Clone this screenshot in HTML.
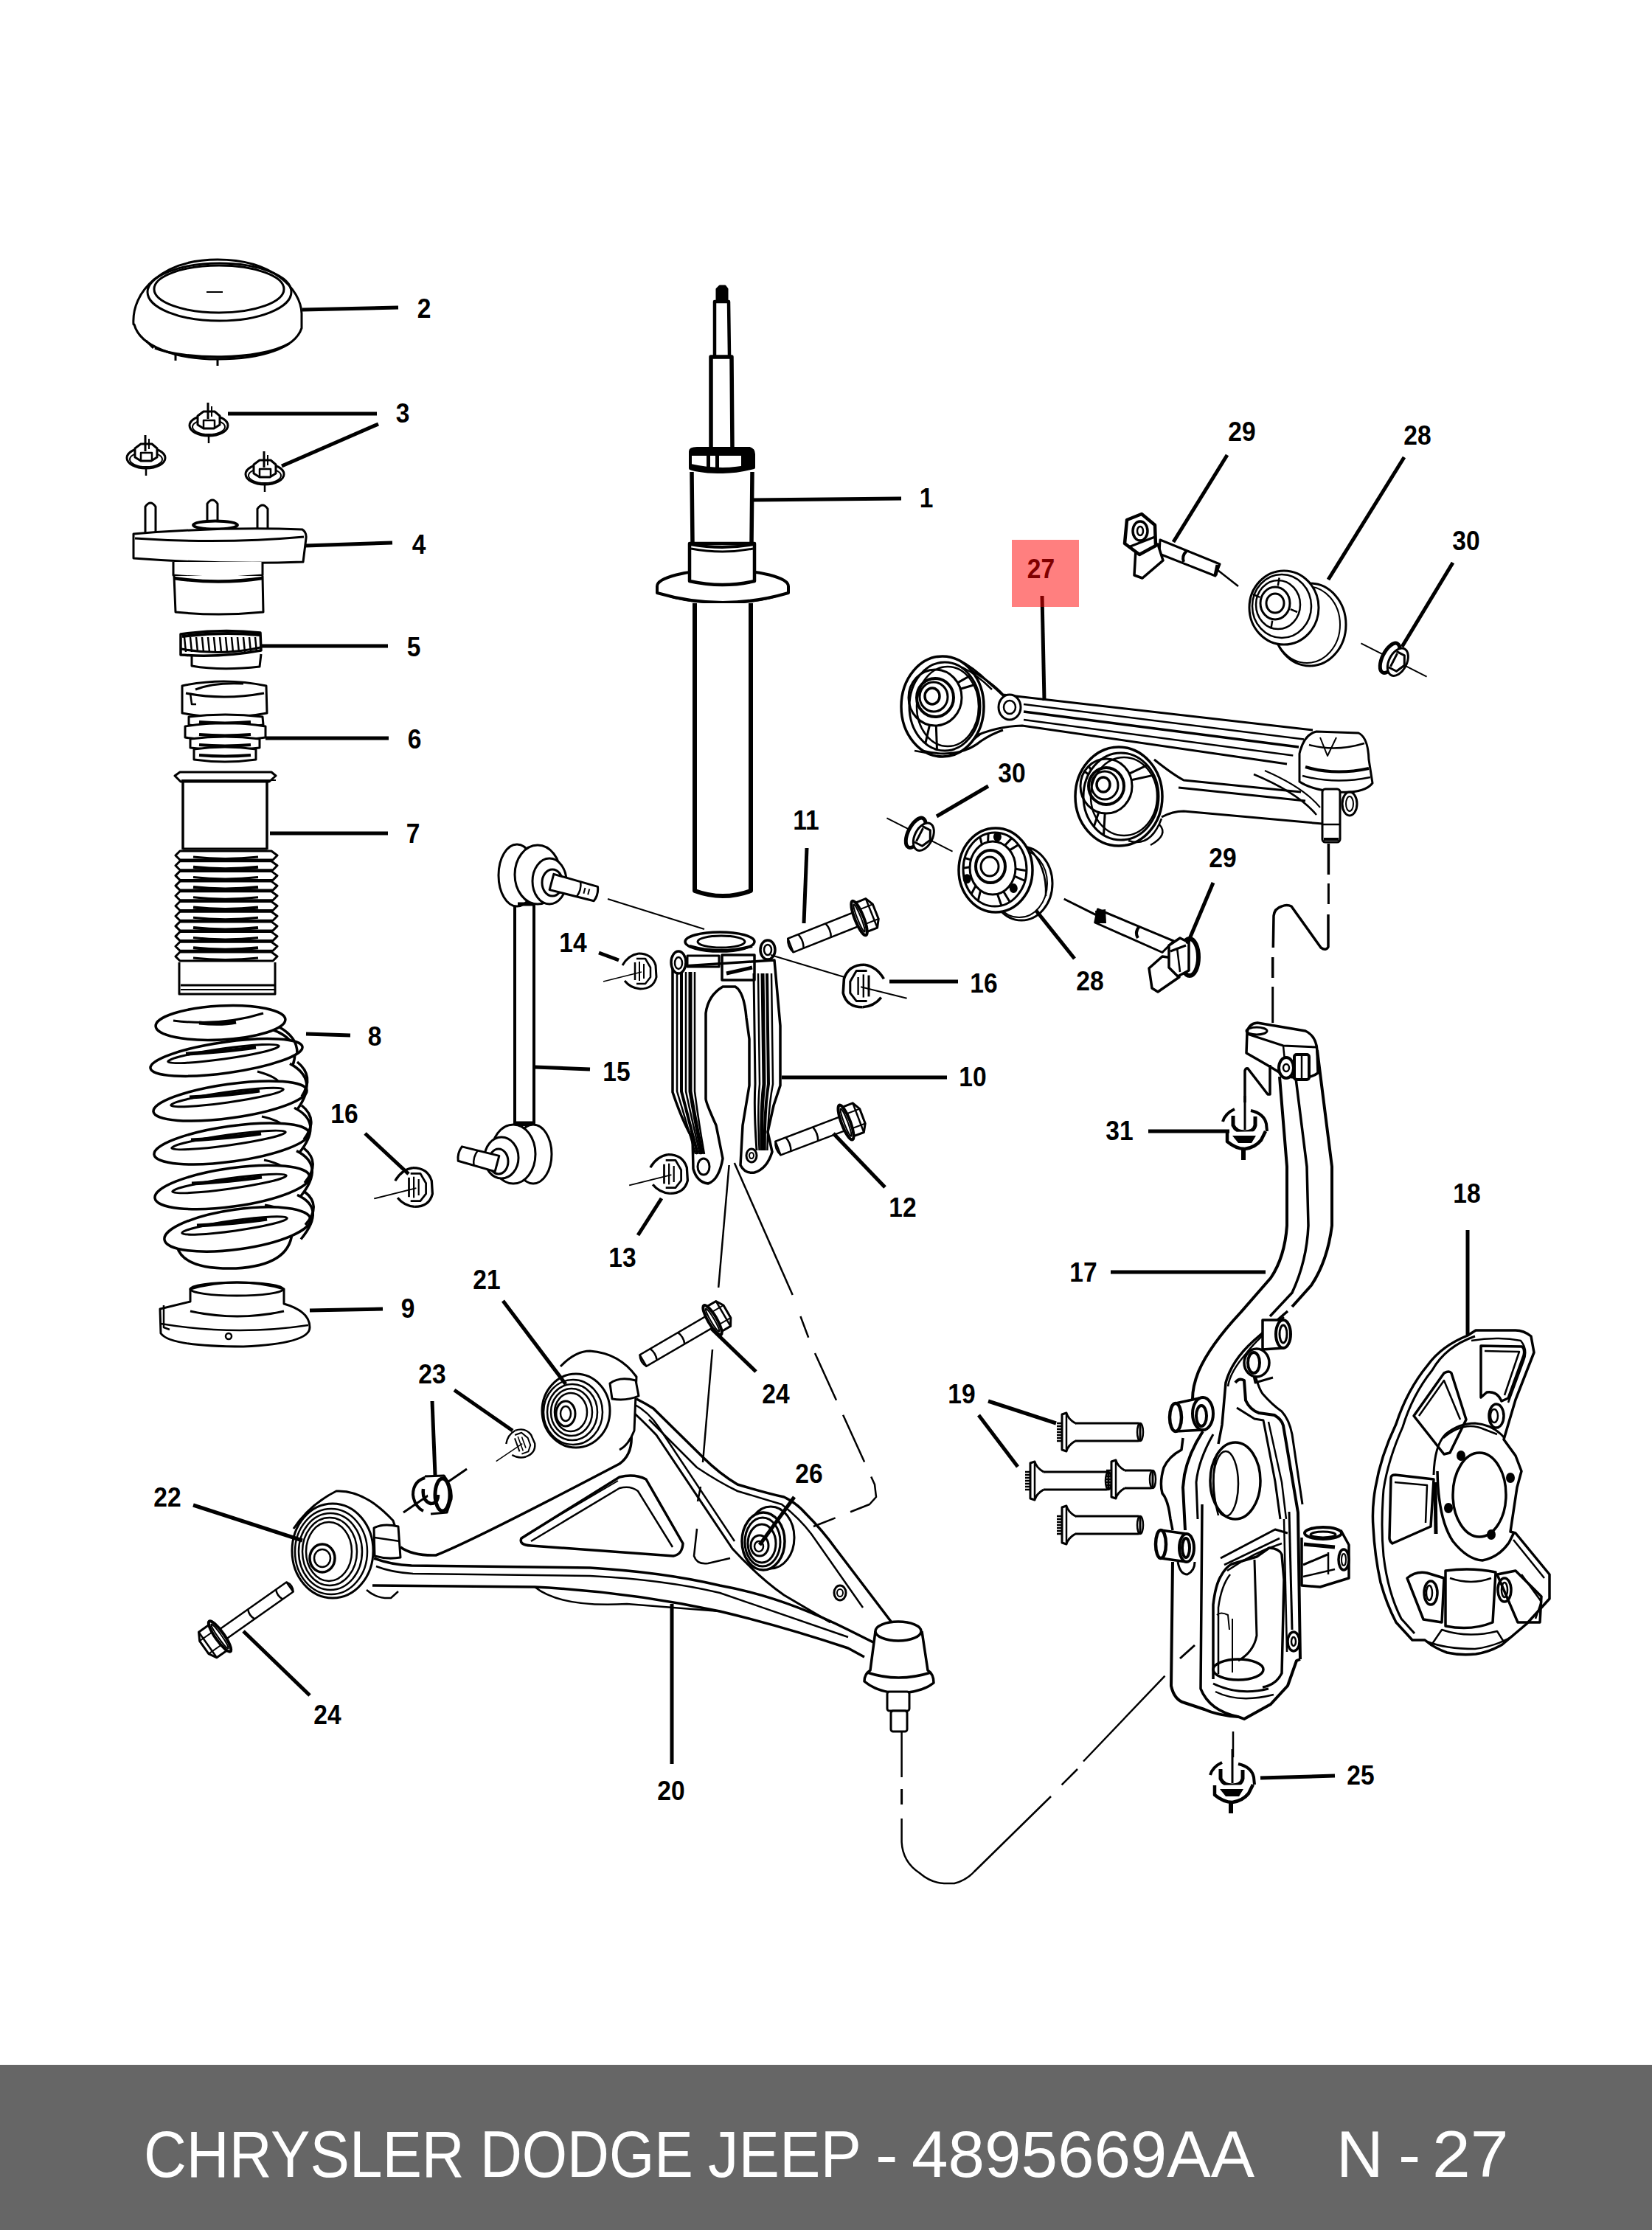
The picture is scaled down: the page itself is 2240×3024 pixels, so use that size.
<!DOCTYPE html>
<html><head><meta charset="utf-8"><style>
html,body{margin:0;padding:0;background:#fff;}
body{width:2240px;height:3024px;position:relative;overflow:hidden;font-family:"Liberation Sans",sans-serif;}
svg{position:absolute;left:0;top:0;}
.lbl text{font-family:"Liberation Sans",sans-serif;font-weight:bold;font-size:36.5px;text-anchor:middle;}
#footer{position:absolute;left:0;top:2800px;width:2240px;height:224px;background:#666;}
.ft{position:absolute;top:2877.1px;color:#fff;font-size:89px;white-space:nowrap;line-height:1;transform-origin:0 0;}
</style></head><body>
<svg width="2240" height="2800" viewBox="0 0 2240 2800">
<g stroke="#000" fill="none" stroke-linejoin="round" stroke-linecap="butt">
<path d="M181,440 C178,395 220,352 295,352 C370,352 408,392 409,425 L409,445 C400,472 355,487 295,487 C238,487 190,470 182,440 Z" stroke-width="3" fill="#fff" />
<ellipse cx="297.5" cy="396" rx="97.5" ry="39" stroke-width="3" fill="none" />
<ellipse cx="297" cy="392" rx="88" ry="32" stroke-width="3" fill="none" />
<line x1="280" y1="396" x2="302" y2="396" stroke-width="2" />
<line x1="238" y1="478" x2="238" y2="489" stroke-width="3" />
<line x1="295" y1="487" x2="295" y2="496" stroke-width="3" />
<path d="M210,472 C250,488 350,490 392,466" stroke-width="3.5" fill="none" />
<path d="M198,462 L208,472" stroke-width="3" fill="none" />
<g transform="translate(283 573) rotate(0) scale(1 1)">
<ellipse cx="0" cy="4" rx="26" ry="14" stroke-width="3" fill="#fff" />
<ellipse cx="0" cy="6" rx="22" ry="10" stroke-width="2" fill="none" />
<path d="M-15,3 L-15,-9 L-7,-15 L8,-15 L15,-9 L15,3 L7,8 L-7,8 Z" stroke-width="3" fill="#fff" />
<path d="M-7,8 L-7,-3 L8,-3 L8,8" stroke-width="2.5" fill="none" />
<line x1="-1" y1="-27" x2="-1" y2="-5" stroke-width="3" />
<line x1="4" y1="-22" x2="4" y2="-8" stroke-width="2" />
<line x1="0" y1="18" x2="0" y2="28" stroke-width="2.5" />
</g>
<g transform="translate(198 617) rotate(0) scale(1 1)">
<ellipse cx="0" cy="4" rx="26" ry="14" stroke-width="3" fill="#fff" />
<ellipse cx="0" cy="6" rx="22" ry="10" stroke-width="2" fill="none" />
<path d="M-15,3 L-15,-9 L-7,-15 L8,-15 L15,-9 L15,3 L7,8 L-7,8 Z" stroke-width="3" fill="#fff" />
<path d="M-7,8 L-7,-3 L8,-3 L8,8" stroke-width="2.5" fill="none" />
<line x1="-1" y1="-27" x2="-1" y2="-5" stroke-width="3" />
<line x1="4" y1="-22" x2="4" y2="-8" stroke-width="2" />
<line x1="0" y1="18" x2="0" y2="28" stroke-width="2.5" />
</g>
<g transform="translate(359 639) rotate(0) scale(1 1)">
<ellipse cx="0" cy="4" rx="26" ry="14" stroke-width="3" fill="#fff" />
<ellipse cx="0" cy="6" rx="22" ry="10" stroke-width="2" fill="none" />
<path d="M-15,3 L-15,-9 L-7,-15 L8,-15 L15,-9 L15,3 L7,8 L-7,8 Z" stroke-width="3" fill="#fff" />
<path d="M-7,8 L-7,-3 L8,-3 L8,8" stroke-width="2.5" fill="none" />
<line x1="-1" y1="-27" x2="-1" y2="-5" stroke-width="3" />
<line x1="4" y1="-22" x2="4" y2="-8" stroke-width="2" />
<line x1="0" y1="18" x2="0" y2="28" stroke-width="2.5" />
</g>
<path d="M197,722 L197,687 Q204,677 211,687 L211,722" stroke-width="3" fill="#fff" />
<path d="M281,712 L281,683 Q288,673 295,683 L295,712" stroke-width="3" fill="#fff" />
<path d="M349,726 L349,690 Q356,680 363,690 L363,726" stroke-width="3" fill="#fff" />
<rect x="349" y="716" width="14" height="10" rx="0" stroke-width="0" fill="#000"/>
<ellipse cx="292" cy="712" rx="30" ry="5.5" stroke-width="4" fill="#fff" />
<path d="M181,724 Q300,714 410,718 Q416,722 415,730 L411,762 Q300,766 181,757 Z" stroke-width="3" fill="#fff" />
<path d="M183,730 Q300,738 412,728" stroke-width="3" fill="none" />
<path d="M235,762 L235,780 Q296,786 356,780 L356,762" stroke-width="3" fill="#fff" />
<path d="M236,781 L238,830 Q296,836 357,830 L356,781" stroke-width="3" fill="#fff" />
<path d="M236,784 Q296,793 356,784" stroke-width="4.5" fill="none" />
<path d="M260,887 L260,903 Q300,910 352,904 L354,887" stroke-width="3" fill="#fff" />
<path d="M245,860 Q300,852 353,858 L354,882 Q300,892 245,888 Z" stroke-width="3.5" fill="#fff" />
<path d="M247,863 Q300,856 352,861" stroke-width="4" fill="none" />
<line x1="250" y1="864" x2="252" y2="884" stroke-width="2.5" />
<line x1="258" y1="864" x2="260" y2="884" stroke-width="2.5" />
<line x1="266" y1="864" x2="268" y2="884" stroke-width="2.5" />
<line x1="274" y1="864" x2="276" y2="884" stroke-width="2.5" />
<line x1="282" y1="864" x2="284" y2="884" stroke-width="2.5" />
<line x1="290" y1="864" x2="292" y2="884" stroke-width="2.5" />
<line x1="298" y1="864" x2="300" y2="884" stroke-width="2.5" />
<line x1="306" y1="864" x2="308" y2="884" stroke-width="2.5" />
<line x1="314" y1="864" x2="316" y2="884" stroke-width="2.5" />
<line x1="322" y1="864" x2="324" y2="884" stroke-width="2.5" />
<line x1="330" y1="864" x2="332" y2="884" stroke-width="2.5" />
<line x1="338" y1="864" x2="340" y2="884" stroke-width="2.5" />
<line x1="346" y1="864" x2="348" y2="884" stroke-width="2.5" />
<path d="M246,880 Q300,890 353,878" stroke-width="3" fill="none" />
<path d="M247,930 Q303,918 361,930 L362,967 Q303,978 247,967 Z" stroke-width="3" fill="#fff" />
<path d="M252,940 Q303,950 358,940" stroke-width="3" fill="none" />
<path d="M265,935 Q290,925 330,927" stroke-width="3" fill="none" />
<path d="M258,940 L260,955 L266,955" stroke-width="2.5" fill="none" />
<path d="M256,972 Q305,966 356,972 L357,983 Q305,990 256,983 Z" stroke-width="3" fill="#fff" />
<path d="M251,985 Q305,976 360,985 L360,1000 Q305,1008 251,1000 Z" stroke-width="3" fill="#fff" />
<path d="M258,1002 Q305,996 352,1002 L352,1014 Q305,1020 258,1014 Z" stroke-width="3" fill="#fff" />
<path d="M263,1016 Q305,1010 347,1016 L347,1030 Q305,1036 263,1030 Z" stroke-width="3" fill="#fff" />
<path d="M270,979 Q305,982 340,979" stroke-width="4" fill="none" />
<path d="M270,996 Q305,999 340,996" stroke-width="4" fill="none" />
<path d="M270,1010 Q305,1013 340,1010" stroke-width="4" fill="none" />
<path d="M270,1024 Q305,1027 340,1024" stroke-width="4" fill="none" />
<path d="M237,1052 L244,1047 L368,1047 L374,1052 L365,1060 L245,1060 Z" stroke-width="3" fill="#fff" />
<line x1="246" y1="1058" x2="374" y2="1058" stroke-width="2" />
<line x1="248" y1="1060" x2="248" y2="1152" stroke-width="3.5" />
<line x1="362" y1="1060" x2="362" y2="1152" stroke-width="3.5" />
<line x1="248" y1="1151" x2="362" y2="1151" stroke-width="3" />
<path d="M238,1160 L244,1154 L368,1154 L376,1160 L370,1166 L244,1166 Z" stroke-width="3" fill="#fff" />
<path d="M262,1162 Q305,1167 350,1162" stroke-width="3" fill="none" />
<path d="M238,1173.7 L244,1167.7 L368,1167.7 L376,1173.7 L370,1179.7 L244,1179.7 Z" stroke-width="3" fill="#fff" />
<path d="M262,1175.7 Q305,1180.7 350,1175.7" stroke-width="4" fill="none" />
<path d="M238,1187.4 L244,1181.4 L368,1181.4 L376,1187.4 L370,1193.4 L244,1193.4 Z" stroke-width="3" fill="#fff" />
<path d="M262,1189.4 Q305,1194.4 350,1189.4" stroke-width="3" fill="none" />
<path d="M238,1201.1 L244,1195.1 L368,1195.1 L376,1201.1 L370,1207.1 L244,1207.1 Z" stroke-width="3" fill="#fff" />
<path d="M262,1203.1 Q305,1208.1 350,1203.1" stroke-width="4" fill="none" />
<path d="M238,1214.8 L244,1208.8 L368,1208.8 L376,1214.8 L370,1220.8 L244,1220.8 Z" stroke-width="3" fill="#fff" />
<path d="M262,1216.8 Q305,1221.8 350,1216.8" stroke-width="3" fill="none" />
<path d="M238,1228.5 L244,1222.5 L368,1222.5 L376,1228.5 L370,1234.5 L244,1234.5 Z" stroke-width="3" fill="#fff" />
<path d="M262,1230.5 Q305,1235.5 350,1230.5" stroke-width="4" fill="none" />
<path d="M238,1242.2 L244,1236.2 L368,1236.2 L376,1242.2 L370,1248.2 L244,1248.2 Z" stroke-width="3" fill="#fff" />
<path d="M262,1244.2 Q305,1249.2 350,1244.2" stroke-width="3" fill="none" />
<path d="M238,1255.9 L244,1249.9 L368,1249.9 L376,1255.9 L370,1261.9 L244,1261.9 Z" stroke-width="3" fill="#fff" />
<path d="M262,1257.9 Q305,1262.9 350,1257.9" stroke-width="4" fill="none" />
<path d="M238,1269.6 L244,1263.6 L368,1263.6 L376,1269.6 L370,1275.6 L244,1275.6 Z" stroke-width="3" fill="#fff" />
<path d="M262,1271.6 Q305,1276.6 350,1271.6" stroke-width="3" fill="none" />
<path d="M238,1283.3 L244,1277.3 L368,1277.3 L376,1283.3 L370,1289.3 L244,1289.3 Z" stroke-width="3" fill="#fff" />
<path d="M262,1285.3 Q305,1290.3 350,1285.3" stroke-width="4" fill="none" />
<path d="M238,1297 L244,1291 L368,1291 L376,1297 L370,1303 L244,1303 Z" stroke-width="3" fill="#fff" />
<path d="M262,1299 Q305,1304 350,1299" stroke-width="3" fill="none" />
<path d="M243,1305 L243,1348 L373,1348 L373,1305" stroke-width="3" fill="#fff" />
<line x1="245" y1="1336" x2="372" y2="1336" stroke-width="3" />
<line x1="245" y1="1342" x2="372" y2="1342" stroke-width="2" />
<path d="M240,1690 Q248,1722 320,1720 Q392,1716 396,1672" stroke-width="3.5" fill="none" />
<path d="M369,1396.2 Q409,1410.5 397,1444.5" stroke-width="3.5" fill="none" />
<path d="M325,1408.0 Q385,1416.5 341,1430.0" stroke-width="3" fill="none" />
<path d="M393,1442.4 Q433,1463.5 403,1504.5" stroke-width="3.5" fill="none" />
<path d="M349,1453.0 Q409,1469.5 347,1489.0" stroke-width="3" fill="none" />
<path d="M399,1502.2 Q439,1522.0 406,1563.0" stroke-width="3.5" fill="none" />
<path d="M355,1514.0 Q415,1528.0 350,1547.0" stroke-width="3" fill="none" />
<path d="M402,1560.6 Q442,1580.5 407,1623.0" stroke-width="3.5" fill="none" />
<path d="M358,1573.0 Q418,1586.5 351,1606.0" stroke-width="3" fill="none" />
<path d="M403,1620.4 Q443,1638.5 408,1680.5" stroke-width="3.5" fill="none" />
<path d="M359,1634.0 Q419,1644.5 352,1663.0" stroke-width="3" fill="none" />
<ellipse cx="299" cy="1387" rx="88" ry="23" stroke-width="3.5" fill="#fff" transform="rotate(-3 299 1387)" />
<path d="M235,1384 Q300,1392 357,1374" stroke-width="3" fill="none" />
<path d="M270,1387 Q300,1390 320,1386" stroke-width="5" fill="none" />
<ellipse cx="307" cy="1434" rx="104" ry="21" stroke-width="3.5" fill="#fff" transform="rotate(-8 307 1434)" />
<ellipse cx="303" cy="1429" rx="76" ry="7" stroke-width="3" fill="none" transform="rotate(-8 303 1429)" />
<path d="M252,1429 Q307,1426 347,1420" stroke-width="5" fill="none" />
<ellipse cx="312" cy="1493" rx="105" ry="23" stroke-width="3.5" fill="#fff" transform="rotate(-8 312 1493)" />
<ellipse cx="308" cy="1488" rx="77" ry="7" stroke-width="3" fill="none" transform="rotate(-8 308 1488)" />
<path d="M257,1488 Q312,1485 352,1479" stroke-width="5" fill="none" />
<ellipse cx="314" cy="1551" rx="106" ry="24" stroke-width="3.5" fill="#fff" transform="rotate(-8 314 1551)" />
<ellipse cx="310" cy="1546" rx="78" ry="7" stroke-width="3" fill="none" transform="rotate(-8 310 1546)" />
<path d="M259,1546 Q314,1543 354,1537" stroke-width="5" fill="none" />
<ellipse cx="315" cy="1610" rx="106" ry="26" stroke-width="3.5" fill="#fff" transform="rotate(-8 315 1610)" />
<ellipse cx="311" cy="1605" rx="78" ry="7" stroke-width="3" fill="none" transform="rotate(-8 311 1605)" />
<path d="M260,1605 Q315,1602 355,1596" stroke-width="5" fill="none" />
<ellipse cx="322" cy="1667" rx="100" ry="27" stroke-width="3.5" fill="#fff" transform="rotate(-8 322 1667)" />
<ellipse cx="318" cy="1662" rx="72" ry="7" stroke-width="3" fill="none" transform="rotate(-8 318 1662)" />
<path d="M267,1662 Q322,1659 362,1653" stroke-width="5" fill="none" />
<path d="M379,1393 Q403,1406.5 403,1428" stroke-width="3.5" fill="none" />
<path d="M403,1440 Q427,1459.5 409,1487" stroke-width="3.5" fill="none" />
<path d="M409,1499 Q433,1518.0 412,1545" stroke-width="3.5" fill="none" />
<path d="M412,1557 Q436,1576.5 413,1604" stroke-width="3.5" fill="none" />
<path d="M413,1616 Q437,1634.5 414,1661" stroke-width="3.5" fill="none" />
<path d="M217,1775 L258,1765 L258,1748 Q322,1730 385,1748 L385,1768 Q420,1778 420,1800 Q420,1822 330,1826 Q230,1826 218,1808 Z" stroke-width="3" fill="#fff" />
<ellipse cx="321" cy="1748" rx="63" ry="9" stroke-width="3" fill="none" />
<path d="M258,1778 Q322,1792 385,1778" stroke-width="3" fill="none" />
<path d="M218,1795 Q320,1812 418,1797" stroke-width="2.5" fill="none" />
<path d="M222,1770 L222,1800 L230,1803" stroke-width="2.5" fill="none" />
<circle cx="310" cy="1812" r="4" stroke-width="2.5" fill="none"/>
<path d="M972,407 L972,392 L976,388 L983,388 L986,392 L986,407 Z" stroke-width="3" fill="#000" />
<path d="M969,482 L969,409 L988,409 L989,482" stroke-width="4.5" fill="#fff" />
<path d="M964,608 L964,484 L992,484 L993,608" stroke-width="5.5" fill="#fff" />
<path d="M936,612 Q936,608 945,608 L1016,608 Q1022,610 1022,616 L1022,634 Q1000,640 980,640 Q950,640 936,635 Z" stroke-width="4" fill="#fff" />
<rect x="938" y="609" width="84" height="9" rx="0" stroke-width="0" fill="#000"/>
<path d="M936,632 Q980,642 1022,632" stroke-width="6" fill="none" />
<rect x="958" y="614" width="5" height="20" rx="0" stroke-width="0" fill="#000"/>
<rect x="970" y="614" width="5" height="20" rx="0" stroke-width="0" fill="#000"/>
<rect x="1005" y="612" width="15" height="22" rx="0" stroke-width="0" fill="#000"/>
<path d="M938,640 L939,737 M1020,640 L1019,737" stroke-width="5.5" fill="none" />
<ellipse cx="980" cy="795" rx="89" ry="22" stroke-width="4" fill="#fff" />
<path d="M891,795 L891,804 Q980,830 1069,804 L1069,795" stroke-width="4" fill="#fff" />
<path d="M935,737 L935,788 Q980,798 1023,788 L1023,737 Z" stroke-width="4.5" fill="#fff" />
<path d="M936,738 Q980,746 1022,738" stroke-width="4" fill="none" />
<path d="M937,744 Q980,752 1021,744" stroke-width="3" fill="none" />
<path d="M942,818 L942,1208 Q980,1222 1018,1208 L1018,818" stroke-width="6" fill="#fff" />
<line x1="824" y1="1219" x2="955" y2="1260" stroke-width="2" />
<rect x="698" y="1224" width="26" height="301" rx="0" stroke-width="4" fill="#fff"/>
<ellipse cx="701" cy="1187" rx="25" ry="42" stroke-width="3" fill="#fff" />
<ellipse cx="729" cy="1186" rx="31" ry="40" stroke-width="3" fill="#fff" />
<ellipse cx="745" cy="1195" rx="23" ry="31" stroke-width="3" fill="#fff" />
<ellipse cx="749" cy="1197" rx="14" ry="18" stroke-width="3" fill="#fff" />
<g transform="translate(748 1196) rotate(15) scale(1 1)">
<path d="M0,-11 L62,-10 Q66,0 62,10 L0,11 Z" stroke-width="3" fill="#fff" />
<path d="M38,-10 Q42,0 38,10" stroke-width="2.5" fill="none" />
<line x1="46" y1="-4" x2="46" y2="4" stroke-width="2" />
<line x1="52" y1="-4" x2="52" y2="4" stroke-width="2" />
</g>
<line x1="702" y1="1226" x2="722" y2="1226" stroke-width="5" />
<ellipse cx="723" cy="1565" rx="25" ry="40" stroke-width="3" fill="#fff" />
<ellipse cx="696" cy="1565" rx="30" ry="40" stroke-width="3" fill="#fff" />
<ellipse cx="680" cy="1570" rx="23" ry="28" stroke-width="3" fill="#fff" />
<ellipse cx="676" cy="1575" rx="13" ry="17" stroke-width="3" fill="#fff" />
<g transform="translate(674 1578) rotate(-165) scale(1 1)">
<path d="M0,-11 L52,-10 Q56,0 52,10 L0,11 Z" stroke-width="3" fill="#fff" />
<path d="M30,-10 Q34,0 30,10" stroke-width="2.5" fill="none" />
</g>
<line x1="700" y1="1523" x2="722" y2="1523" stroke-width="5" />
<path d="M912,1311 L912,1481 Q925,1520 939,1544 L940,1585 Q945,1603 960,1605 Q975,1600 980,1571 L971,1526 Q957,1495 957,1490 L957,1374 Q960,1350 980,1338 L997,1338 Q1009,1345 1012,1380 L1016,1409 L1016,1472 L1007,1526 L1004,1580 Q1010,1592 1023,1590 Q1040,1585 1047,1562 L1041,1535 L1049,1499 L1058,1472 L1058,1391 L1050,1302 Z" stroke-width="3.5" fill="#fff" />
<ellipse cx="976" cy="1277" rx="47" ry="13" stroke-width="3.5" fill="#fff" />
<ellipse cx="978" cy="1277" rx="32" ry="8" stroke-width="3" fill="none" />
<path d="M935,1283 Q975,1295 1020,1283" stroke-width="4" fill="none" />
<ellipse cx="920" cy="1305" rx="10" ry="15" stroke-width="3.5" fill="#fff" />
<ellipse cx="920" cy="1306" rx="5" ry="8" stroke-width="2.5" fill="none" />
<ellipse cx="1041" cy="1288" rx="10" ry="13" stroke-width="3.5" fill="#fff" />
<ellipse cx="1041" cy="1288" rx="5" ry="7" stroke-width="2.5" fill="none" />
<rect x="979" y="1295" width="44" height="34" rx="0" stroke-width="3.5" fill="none"/>
<path d="M985,1320 L1020,1312" stroke-width="5" fill="none" />
<path d="M932,1296 L975,1296 L975,1311 L932,1311 Z" stroke-width="3" fill="none" />
<path d="M918,1318 L918,1480 Q930.2,1520 943.0,1565" stroke-width="2.5" fill="none" />
<path d="M924,1318 L924,1480 Q934.4,1520 946.0,1565" stroke-width="4" fill="none" />
<path d="M930,1318 L930,1480 Q938.6,1520 949.0,1565" stroke-width="2.5" fill="none" />
<path d="M936,1318 L936,1480 Q942.8,1520 952.0,1565" stroke-width="5" fill="none" />
<path d="M942,1318 L942,1480 Q947.0,1520 955.0,1565" stroke-width="2.5" fill="none" />
<path d="M1046,1320 L1048,1470 Q1041.2,1505 1040.4,1560" stroke-width="2.5" fill="none" />
<path d="M1040,1320 L1042,1470 Q1036.4,1505 1036.8,1560" stroke-width="4" fill="none" />
<path d="M1034,1320 L1036,1470 Q1031.6,1505 1033.2,1560" stroke-width="5" fill="none" />
<path d="M1028,1320 L1030,1470 Q1026.8,1505 1029.6,1560" stroke-width="2.5" fill="none" />
<path d="M1022,1320 L1024,1470 Q1022.0,1505 1026.0,1560" stroke-width="3" fill="none" />
<ellipse cx="954" cy="1582" rx="8" ry="11" stroke-width="3" fill="none" />
<ellipse cx="1019" cy="1567" rx="7" ry="9" stroke-width="3" fill="none" />
<ellipse cx="1019" cy="1567" rx="3" ry="4" stroke-width="2" fill="none" />
<line x1="1045" y1="1295" x2="1145" y2="1325" stroke-width="2" />
<g transform="translate(866 1317) rotate(0) scale(1 1)">
<line x1="-48" y1="14" x2="4" y2="1" stroke-width="1.8" />
<path d="M0,-24 Q18,-24 23,-8 L24,8 Q20,24 2,24" stroke-width="3" fill="none" />
<path d="M0,-24 Q-14,-22 -22,-8" stroke-width="3" fill="none" />
<path d="M-19,13 Q-11,23 2,24" stroke-width="3" fill="none" />
<path d="M-3,-17 L9,-17 L16,-5 L16,8 L9,17 L-3,17" stroke-width="2.5" fill="none" />
<line x1="-5" y1="-12" x2="-5" y2="12" stroke-width="2.5" />
<line x1="1" y1="-13" x2="1" y2="13" stroke-width="2" />
<line x1="7" y1="-10" x2="7" y2="10" stroke-width="2" />
</g>
<g transform="translate(560 1610) rotate(0) scale(1.1 1.1)">
<line x1="-48" y1="14" x2="4" y2="1" stroke-width="1.8" />
<path d="M0,-24 Q18,-24 23,-8 L24,8 Q20,24 2,24" stroke-width="3" fill="none" />
<path d="M0,-24 Q-14,-22 -22,-8" stroke-width="3" fill="none" />
<path d="M-19,13 Q-11,23 2,24" stroke-width="3" fill="none" />
<path d="M-3,-17 L9,-17 L16,-5 L16,8 L9,17 L-3,17" stroke-width="2.5" fill="none" />
<line x1="-5" y1="-12" x2="-5" y2="12" stroke-width="2.5" />
<line x1="1" y1="-13" x2="1" y2="13" stroke-width="2" />
<line x1="7" y1="-10" x2="7" y2="10" stroke-width="2" />
</g>
<g transform="translate(906 1592) rotate(0) scale(1.1 1.1)">
<line x1="-48" y1="14" x2="4" y2="1" stroke-width="1.8" />
<path d="M0,-24 Q18,-24 23,-8 L24,8 Q20,24 2,24" stroke-width="3" fill="none" />
<path d="M0,-24 Q-14,-22 -22,-8" stroke-width="3" fill="none" />
<path d="M-19,13 Q-11,23 2,24" stroke-width="3" fill="none" />
<path d="M-3,-17 L9,-17 L16,-5 L16,8 L9,17 L-3,17" stroke-width="2.5" fill="none" />
<line x1="-5" y1="-12" x2="-5" y2="12" stroke-width="2.5" />
<line x1="1" y1="-13" x2="1" y2="13" stroke-width="2" />
<line x1="7" y1="-10" x2="7" y2="10" stroke-width="2" />
</g>
<g transform="translate(1172 1337) rotate(0) scale(-1.2 1.2)">
<line x1="-48" y1="14" x2="4" y2="1" stroke-width="1.8" />
<path d="M0,-24 Q18,-24 23,-8 L24,8 Q20,24 2,24" stroke-width="3" fill="none" />
<path d="M0,-24 Q-14,-22 -22,-8" stroke-width="3" fill="none" />
<path d="M-19,13 Q-11,23 2,24" stroke-width="3" fill="none" />
<path d="M-3,-17 L9,-17 L16,-5 L16,8 L9,17 L-3,17" stroke-width="2.5" fill="none" />
<line x1="-5" y1="-12" x2="-5" y2="12" stroke-width="2.5" />
<line x1="1" y1="-13" x2="1" y2="13" stroke-width="2" />
<line x1="7" y1="-10" x2="7" y2="10" stroke-width="2" />
</g>
<g transform="translate(1247 1132) rotate(27) scale(1 1)">
<line x1="-50" y1="0" x2="50" y2="0" stroke-width="2" />
<ellipse cx="-6" cy="0" rx="10" ry="22" stroke-width="5" fill="#fff" />
<ellipse cx="6" cy="0" rx="12" ry="20" stroke-width="3" fill="#fff" />
<path d="M-2,-12 L10,-12 L16,0 L10,12 L-2,12" stroke-width="3" fill="none" />
<line x1="0" y1="-10" x2="0" y2="10" stroke-width="3" />
</g>
<g transform="translate(1890 895) rotate(27) scale(1 1)">
<line x1="-50" y1="0" x2="50" y2="0" stroke-width="2" />
<ellipse cx="-6" cy="0" rx="10" ry="22" stroke-width="5" fill="#fff" />
<ellipse cx="6" cy="0" rx="12" ry="20" stroke-width="3" fill="#fff" />
<path d="M-2,-12 L10,-12 L16,0 L10,12 L-2,12" stroke-width="3" fill="none" />
<line x1="0" y1="-10" x2="0" y2="10" stroke-width="3" />
</g>
<g transform="translate(1072 1282) rotate(-21.7) scale(1 1)">
<path d="M0,-10 L100.1,-10 L100.1,10 L0,10 Z" stroke-width="2.5" fill="#fff" />
<path d="M0,-10 Q-5,0 0,10" stroke-width="2.5" fill="none" />
<path d="M15,-10 Q19,0 15,10" stroke-width="2.5" fill="none" />
<path d="M55,-10 Q59,0 55,10" stroke-width="2.5" fill="none" />
<path d="M102.1,-21.2 L118.1,-21.2 L124.1,-10.6 L124.1,10.6 L118.1,21.2 L102.1,21.2 Z" stroke-width="3" fill="#fff" />
<line x1="118.1" y1="-21.2" x2="118.1" y2="21.2" stroke-width="2.5" />
<line x1="104.1" y1="-10.6" x2="124.1" y2="-10.6" stroke-width="2" />
<line x1="104.1" y1="10.6" x2="124.1" y2="10.6" stroke-width="2" />
<ellipse cx="100.1" cy="0" rx="6" ry="25" stroke-width="4" fill="#fff" />
<ellipse cx="100.1" cy="0" rx="2.5" ry="20" stroke-width="2" fill="none" />
</g>
<g transform="translate(1055 1557) rotate(-20.8) scale(1 1)">
<path d="M0,-10 L98.4,-10 L98.4,10 L0,10 Z" stroke-width="2.5" fill="#fff" />
<path d="M0,-10 Q-5,0 0,10" stroke-width="2.5" fill="none" />
<path d="M14.8,-10 Q18.8,0 14.8,10" stroke-width="2.5" fill="none" />
<path d="M54.1,-10 Q58.1,0 54.1,10" stroke-width="2.5" fill="none" />
<path d="M100.4,-21.2 L116.4,-21.2 L122.4,-10.6 L122.4,10.6 L116.4,21.2 L100.4,21.2 Z" stroke-width="3" fill="#fff" />
<line x1="116.4" y1="-21.2" x2="116.4" y2="21.2" stroke-width="2.5" />
<line x1="102.4" y1="-10.6" x2="122.4" y2="-10.6" stroke-width="2" />
<line x1="102.4" y1="10.6" x2="122.4" y2="10.6" stroke-width="2" />
<ellipse cx="98.4" cy="0" rx="6" ry="25" stroke-width="4" fill="#fff" />
<ellipse cx="98.4" cy="0" rx="2.5" ry="20" stroke-width="2" fill="none" />
</g>
<path d="M1310,905 Q1345,925 1360,942 L1386,945 L1780,990" stroke-width="3" fill="none" />
<path d="M1388,955 L1768.0,1002.5" stroke-width="2.5" fill="none" />
<path d="M1388,965 L1761.0,1013.0" stroke-width="3.5" fill="none" />
<path d="M1388,976 L1753.3,1024.55" stroke-width="2.5" fill="none" />
<path d="M1318,1000 Q1350,985 1386,984 L1745,1036" stroke-width="3" fill="none" />
<path d="M1240,1018 Q1290,1030 1330,995" stroke-width="2.5" fill="none" />
<ellipse cx="1278" cy="958" rx="56" ry="68" stroke-width="3.5" fill="#fff" />
<ellipse cx="1281" cy="958" rx="48" ry="60" stroke-width="3" fill="none" />
<ellipse cx="1285" cy="958" rx="42" ry="54" stroke-width="2.5" fill="none" />
<ellipse cx="1268" cy="946" rx="36" ry="38" stroke-width="3" fill="none" />
<line x1="1269.3" y1="984" x2="1270.5" y2="1016.5" stroke-width="3" />
<line x1="1260.5" y1="983.2" x2="1254.8" y2="1008.2" stroke-width="3" />
<line x1="1236.2" y1="928.2" x2="1238.4" y2="930.3" stroke-width="3" />
<line x1="1241.2" y1="920.6" x2="1242.2" y2="922.7" stroke-width="3" />
<line x1="1298.5" y1="925.9" x2="1315.5" y2="916.3" stroke-width="3" />
<line x1="1302.2" y1="934.3" x2="1322.7" y2="928.2" stroke-width="3" />
<ellipse cx="1268" cy="946" rx="25" ry="26" stroke-width="4" fill="none" />
<ellipse cx="1266" cy="945" rx="19" ry="20" stroke-width="3" fill="none" />
<ellipse cx="1264" cy="944" rx="10" ry="11" stroke-width="3.5" fill="none" />
<path d="M1300,895 Q1320,905 1340,925 Q1352,935 1362,945" stroke-width="3" fill="none" />
<path d="M1305,905 Q1325,915 1345,935" stroke-width="2.5" fill="none" />
<path d="M1250,1018 Q1300,1030 1330,1005 Q1345,995 1360,990" stroke-width="3" fill="none" />
<ellipse cx="1369" cy="959" rx="15" ry="17" stroke-width="3" fill="#fff" />
<ellipse cx="1369" cy="959" rx="8" ry="9" stroke-width="2.5" fill="none" />
<path d="M1565,1030 Q1590,1050 1605,1058 L1764,1074" stroke-width="3" fill="none" />
<path d="M1598,1068 L1770,1086" stroke-width="3" fill="none" />
<path d="M1575,1108 Q1590,1100 1605,1100 L1793,1117" stroke-width="3" fill="none" />
<path d="M1572,1118 Q1585,1132 1560,1146" stroke-width="2.5" fill="none" />
<path d="M1700,1050 Q1760,1075 1785,1105" stroke-width="2.5" fill="none" />
<path d="M1715,1045 Q1768,1068 1790,1095" stroke-width="2" fill="none" />
<ellipse cx="1517" cy="1080" rx="59" ry="67" stroke-width="3.5" fill="#fff" />
<ellipse cx="1520" cy="1080" rx="51" ry="59" stroke-width="3" fill="none" />
<ellipse cx="1524" cy="1080" rx="45" ry="53" stroke-width="2.5" fill="none" />
<ellipse cx="1500" cy="1066" rx="35" ry="37" stroke-width="3" fill="none" />
<line x1="1498.2" y1="1102.9" x2="1496.5" y2="1132.4" stroke-width="3" />
<line x1="1489.8" y1="1101.4" x2="1483.2" y2="1120.9" stroke-width="3" />
<line x1="1470.6" y1="1045.8" x2="1475.9" y2="1050.4" stroke-width="3" />
<line x1="1476.1" y1="1038.9" x2="1479.5" y2="1044.1" stroke-width="3" />
<line x1="1531.2" y1="1049.2" x2="1555.5" y2="1037.7" stroke-width="3" />
<line x1="1534.1" y1="1057.7" x2="1564.5" y2="1051.1" stroke-width="3" />
<ellipse cx="1500" cy="1066" rx="24" ry="25" stroke-width="4" fill="none" />
<ellipse cx="1498" cy="1065" rx="18" ry="19" stroke-width="3" fill="none" />
<ellipse cx="1496" cy="1064" rx="9" ry="10" stroke-width="3.5" fill="none" />
<path d="M1530,1140 Q1560,1150 1575,1110" stroke-width="2.5" fill="none" />
<path d="M1762,1022 Q1768,996 1785,992 L1842,994 Q1855,1000 1856,1030 L1861,1062 Q1850,1076 1815,1074 Q1780,1072 1762,1060 Z" stroke-width="3" fill="#fff" />
<path d="M1770,1040 Q1810,1052 1856,1042" stroke-width="4" fill="none" />
<path d="M1766,1052 Q1810,1064 1858,1054" stroke-width="2.5" fill="none" />
<path d="M1775,1010 Q1810,1020 1850,1008" stroke-width="2.5" fill="none" />
<path d="M1790,1000 L1800,1025 L1812,1000" stroke-width="2" fill="none" />
<rect x="1793" y="1070" width="24" height="72" rx="4" stroke-width="3" fill="#fff"/>
<line x1="1793" y1="1118" x2="1817" y2="1118" stroke-width="2.5" />
<line x1="1795" y1="1138" x2="1815" y2="1138" stroke-width="4" />
<ellipse cx="1830" cy="1090" rx="10" ry="16" stroke-width="3" fill="none" />
<ellipse cx="1830" cy="1090" rx="5" ry="10" stroke-width="2" fill="none" />
<line x1="1801.4" y1="1144" x2="1801.4" y2="1186" stroke-width="3.5" />
<line x1="1801.4" y1="1198" x2="1801.4" y2="1226" stroke-width="3" />
<path d="M1801,1240 L1801,1284 Q1798,1290 1791,1285 L1751,1229 Q1745,1226 1738,1229 Q1728,1232 1727,1242 L1726.3,1285" stroke-width="3.5" fill="none" />
<line x1="1725.7" y1="1298" x2="1725.7" y2="1326" stroke-width="3.5" />
<line x1="1725.7" y1="1338" x2="1725.7" y2="1387" stroke-width="3" />
<ellipse cx="1776" cy="847" rx="49" ry="56" stroke-width="3" fill="#fff" />
<ellipse cx="1772" cy="847" rx="45" ry="52" stroke-width="2" fill="none" />
<ellipse cx="1741" cy="824" rx="47" ry="50" stroke-width="3" fill="#fff" />
<ellipse cx="1738" cy="822" rx="40" ry="43" stroke-width="2.5" fill="none" />
<ellipse cx="1733" cy="820" rx="30" ry="33" stroke-width="2.5" fill="none" />
<ellipse cx="1729" cy="818" rx="20" ry="22" stroke-width="3" fill="none" />
<ellipse cx="1729" cy="818" rx="12" ry="13" stroke-width="3" fill="none" />
<line x1="1749.7" y1="826.2" x2="1759.1" y2="830" stroke-width="2.5" />
<line x1="1725.2" y1="841.6" x2="1723.4" y2="852.5" stroke-width="2.5" />
<line x1="1708.3" y1="809.8" x2="1698.9" y2="806" stroke-width="2.5" />
<line x1="1732.8" y1="794.4" x2="1734.6" y2="783.5" stroke-width="2.5" />
<ellipse cx="1385" cy="1198" rx="42" ry="50" stroke-width="3" fill="#fff" />
<ellipse cx="1382" cy="1198" rx="38" ry="46" stroke-width="2" fill="none" />
<path d="M1395,1150 Q1420,1175 1418,1215" stroke-width="2.5" fill="none" />
<ellipse cx="1350" cy="1180" rx="50" ry="57" stroke-width="3.5" fill="#fff" />
<ellipse cx="1349" cy="1179" rx="43" ry="50" stroke-width="3" fill="none" />
<ellipse cx="1346" cy="1177" rx="31" ry="36" stroke-width="3" fill="none" />
<ellipse cx="1343" cy="1175" rx="20" ry="22" stroke-width="4" fill="none" />
<ellipse cx="1342" cy="1175" rx="12" ry="13" stroke-width="3" fill="none" />
<line x1="1377" y1="1178.3" x2="1392" y2="1180.7" stroke-width="3" />
<line x1="1375.5" y1="1188.1" x2="1389.9" y2="1194.5" stroke-width="3" />
<line x1="1360.6" y1="1208.8" x2="1369.2" y2="1223.1" stroke-width="3" />
<line x1="1352.4" y1="1212.2" x2="1357.9" y2="1227.9" stroke-width="3" />
<line x1="1329.6" y1="1207.5" x2="1326.2" y2="1221.4" stroke-width="3" />
<line x1="1323" y1="1201.1" x2="1317" y2="1212.5" stroke-width="3" />
<line x1="1315" y1="1175.7" x2="1306" y2="1177.3" stroke-width="3" />
<line x1="1316.5" y1="1165.9" x2="1308.1" y2="1163.5" stroke-width="3" />
<line x1="1331.4" y1="1145.2" x2="1328.8" y2="1134.9" stroke-width="3" />
<line x1="1339.6" y1="1141.8" x2="1340.1" y2="1130.1" stroke-width="3" />
<line x1="1362.4" y1="1146.5" x2="1371.8" y2="1136.6" stroke-width="3" />
<line x1="1369" y1="1152.9" x2="1381" y2="1145.5" stroke-width="3" />
<ellipse cx="1374.3" cy="1204.6" rx="4" ry="5" stroke-width="3" fill="#000" />
<ellipse cx="1311.2" cy="1191.7" rx="4" ry="5" stroke-width="3" fill="#000" />
<ellipse cx="1352.4" cy="1134.7" rx="4" ry="5" stroke-width="3" fill="#000" />
<line x1="1679" y1="795" x2="1651" y2="773" stroke-width="2.5" />
<path d="M1573,732 L1654,765 L1648,781 L1572,751 Z" stroke-width="3" fill="#fff" />
<line x1="1651" y1="766" x2="1648" y2="780" stroke-width="5" />
<path d="M1609,747 Q1602,754 1605,762" stroke-width="4" fill="none" />
<path d="M1540,745 L1570,738 L1577,760 L1549,784 L1538,780 Z" stroke-width="3.5" fill="#fff" />
<path d="M1528,705 L1548,697 L1566,712 L1567,740 L1545,752 L1525,737 Z" stroke-width="4.5" fill="#fff" />
<ellipse cx="1546" cy="720" rx="10" ry="13" stroke-width="3.5" fill="none" />
<ellipse cx="1546" cy="720" rx="4" ry="6" stroke-width="2.5" fill="none" />
<line x1="1530" y1="742" x2="1566" y2="728" stroke-width="3" />
<line x1="1442.7" y1="1219" x2="1486" y2="1240.7" stroke-width="3" />
<path d="M1488.5,1233 L1591.4,1276 L1576,1291.5 L1484.7,1251 Z" stroke-width="3" fill="#fff" />
<path d="M1485,1235 L1499,1233 L1500,1252 L1486,1252 Z" stroke-width="0" fill="#000" />
<path d="M1545,1256 Q1538,1264 1543,1272" stroke-width="4" fill="none" />
<path d="M1558,1313 L1576,1297 L1597,1300 L1599,1325 L1570,1345 L1562,1340 Z" stroke-width="3.5" fill="#fff" />
<ellipse cx="1613" cy="1298" rx="12" ry="25" stroke-width="6" fill="#fff" />
<path d="M1585,1282 L1600,1272 L1612,1278 L1612,1316 L1597,1324 L1585,1312 Z" stroke-width="3.5" fill="#fff" />
<line x1="1596" y1="1285" x2="1600" y2="1318" stroke-width="2.5" />
<line x1="1587" y1="1290" x2="1608" y2="1282" stroke-width="3" />
<path d="M1691,1400 Q1693,1388 1705,1387 L1770,1398 Q1785,1405 1786,1425 L1787,1455 Q1778,1462 1762,1462 L1746,1460 L1736,1455 Q1720,1445 1690,1428 Z" stroke-width="3.5" fill="#fff" />
<ellipse cx="1704" cy="1398" rx="14" ry="5" stroke-width="3" fill="none" />
<path d="M1691,1402 L1740,1418 L1786,1420" stroke-width="3" fill="none" />
<line x1="1740" y1="1418" x2="1744" y2="1458" stroke-width="2.5" />
<ellipse cx="1744" cy="1448" rx="10" ry="14" stroke-width="4" fill="#fff" />
<ellipse cx="1744" cy="1448" rx="4" ry="5" stroke-width="2.5" fill="none" />
<rect x="1755" y="1430" width="20" height="34" rx="3" stroke-width="4" fill="#fff"/>
<line x1="1765" y1="1432" x2="1765" y2="1462" stroke-width="2.5" />
<path d="M1735,1460 L1745,1582 L1745,1662 Q1742,1705 1723,1733 L1682,1780 Q1640,1825 1625,1860 Q1617,1880 1617,1897" stroke-width="4" fill="none" />
<path d="M1757,1462 L1772,1582 L1774,1662 Q1772,1710 1752,1753 L1722,1785" stroke-width="3.5" fill="none" />
<path d="M1746,1778 Q1715,1805 1700,1818 Q1670,1845 1662,1875 L1657,1932 L1652,1958" stroke-width="3.5" fill="none" />
<path d="M1741,1786 Q1705,1815 1690,1835 Q1668,1860 1665,1880" stroke-width="2.5" fill="none" />
<path d="M1786,1424 L1806,1582 L1806,1662 Q1800,1710 1778,1743 L1752,1772" stroke-width="4" fill="none" />
<path d="M1712,1790 L1740,1790 L1740,1828 L1712,1830 Z" stroke-width="3.5" fill="#fff" />
<ellipse cx="1740" cy="1809" rx="10" ry="19" stroke-width="4" fill="#fff" />
<ellipse cx="1740" cy="1809" rx="5" ry="12" stroke-width="3" fill="none" />
<ellipse cx="1704" cy="1848" rx="17" ry="19" stroke-width="3.5" fill="#fff" />
<ellipse cx="1700" cy="1848" rx="8" ry="14" stroke-width="4" fill="none" />
<path d="M1700,1866 L1702,1875 L1726,1868" stroke-width="3" fill="none" />
<path d="M1675,1875 Q1680,1868 1687,1872 L1689,1899 Q1695,1912 1707,1916 L1728,1919 Q1738,1925 1740,1933 L1760,2051 L1763,2250" stroke-width="4" fill="none" />
<path d="M1702,1866 Q1708,1885 1712,1890 Q1725,1905 1738,1914 Q1748,1925 1752,1945 L1766,2040" stroke-width="3" fill="none" />
<path d="M1677,1909 L1701,1924 L1713,1926 L1729,2009 L1736,2060" stroke-width="3" fill="none" />
<path d="M1720,1928 L1738,2010 L1744,2060" stroke-width="2.5" fill="none" />
<ellipse cx="1675" cy="2008" rx="34" ry="52" stroke-width="3.5" fill="none" />
<ellipse cx="1662" cy="2012" rx="17" ry="44" stroke-width="2.5" fill="none" />
<path d="M1650,1972 Q1640,2010 1652,2055" stroke-width="2.5" fill="none" />
<path d="M1604,1950 L1602,1966 Q1585,1975 1578,1990 Q1572,2010 1576,2025 Q1584,2034 1587,2060 L1590,2075" stroke-width="3.5" fill="none" />
<path d="M1631,1941 Q1612,1970 1606,2000 L1604,2017 L1607,2075" stroke-width="4" fill="none" />
<path d="M1645,1945 Q1625,1980 1622,2010 L1624,2060" stroke-width="3" fill="none" />
<path d="M1594,1903 L1631,1895 L1631,1939 L1594,1941 Z" stroke-width="3.5" fill="#fff" />
<ellipse cx="1594" cy="1922" rx="8" ry="19" stroke-width="4.5" fill="#fff" />
<ellipse cx="1631" cy="1917" rx="14" ry="22" stroke-width="4" fill="#fff" />
<ellipse cx="1629" cy="1920" rx="7" ry="14" stroke-width="4" fill="none" />
<path d="M1590,2118 L1588,2286 Q1592,2305 1606,2309 L1633,2318 Q1650,2326 1679,2328 L1687,2331 L1723,2311 L1746,2286 L1758,2252 L1763,2250" stroke-width="4" fill="none" />
<path d="M1630,2040 L1628,2290 Q1640,2320 1679,2328" stroke-width="3.5" fill="none" />
<path d="M1748,2050 L1752,2210" stroke-width="3" fill="none" />
<path d="M1741,2060 L1745,2240" stroke-width="2.5" fill="none" />
<path d="M1645,2277 L1645,2176 Q1648,2150 1655,2138 Q1662,2125 1670,2121 L1704,2111 L1721,2099 Q1735,2100 1738,2108 L1741,2142 L1738,2269 Q1730,2285 1712,2288" stroke-width="3.5" fill="none" />
<path d="M1652,2270 L1652,2180 Q1656,2150 1668,2135" stroke-width="2.5" fill="none" />
<path d="M1701,2115 L1704,2218 Q1700,2240 1679,2252" stroke-width="3" fill="none" />
<path d="M1650,2190 Q1655,2185 1665,2190 L1667,2210" stroke-width="2" fill="none" />
<line x1="1671" y1="2195" x2="1671" y2="2268" stroke-width="2" />
<ellipse cx="1679" cy="2264" rx="34" ry="14" stroke-width="3.5" fill="none" />
<path d="M1645,2283 Q1680,2300 1720,2290" stroke-width="3" fill="none" />
<path d="M1648,2294 Q1680,2310 1727,2298" stroke-width="2.5" fill="none" />
<path d="M1655,2113 L1729,2074 L1746,2079" stroke-width="3" fill="none" />
<path d="M1660,2122 L1735,2086" stroke-width="2.5" fill="none" />
<path d="M1664,2130 Q1700,2105 1738,2093" stroke-width="2.5" fill="none" />
<ellipse cx="1754" cy="2226" rx="8" ry="13" stroke-width="3.5" fill="#fff" />
<ellipse cx="1754" cy="2226" rx="3" ry="6" stroke-width="2.5" fill="none" />
<path d="M1600,2249 L1620,2231" stroke-width="3" fill="none" />
<path d="M1574,2075 L1609,2080 L1609,2118 L1574,2113 Z" stroke-width="3.5" fill="#fff" />
<ellipse cx="1574" cy="2094" rx="7" ry="19" stroke-width="4.5" fill="#fff" />
<ellipse cx="1609" cy="2099" rx="10" ry="19" stroke-width="4" fill="#fff" />
<ellipse cx="1608" cy="2099" rx="5" ry="13" stroke-width="4" fill="none" />
<path d="M1597,2118 Q1600,2135 1610,2135 Q1620,2130 1620,2118" stroke-width="3" fill="none" />
<path d="M1765,2085 L1765,2150 L1790,2152 L1829,2140 L1829,2095 L1818,2075" stroke-width="3.5" fill="#fff" />
<ellipse cx="1794" cy="2079" rx="25" ry="8" stroke-width="4" fill="#fff" />
<ellipse cx="1794" cy="2081" rx="17" ry="4" stroke-width="3" fill="none" />
<ellipse cx="1822" cy="2115" rx="7" ry="14" stroke-width="3.5" fill="#fff" />
<ellipse cx="1822" cy="2115" rx="3" ry="8" stroke-width="2" fill="none" />
<line x1="1767" y1="2122" x2="1800" y2="2108" stroke-width="3" />
<line x1="1801" y1="2105" x2="1801" y2="2135" stroke-width="2.5" />
<line x1="1767" y1="2138" x2="1810" y2="2128" stroke-width="2.5" />
<path d="M1768,2094 L1810,2098" stroke-width="5" fill="none" />
<path d="M1688,1495 L1688,1452 Q1689,1448 1692,1449 L1719,1484 L1722,1484 L1722,1444" stroke-width="3.5" fill="none" />
<g transform="translate(1688 1526) rotate(0) scale(1 1)">
<path d="M-30,-5 Q-27,-16 -14,-22" stroke-width="4" fill="none" />
<path d="M8,-20 Q26,-16 29,-2 L30,8" stroke-width="4" fill="none" />
<path d="M-16,-13 L-16,0 Q-12,9 0,9 Q12,9 14,0 L14,-12" stroke-width="5" fill="none" />
<path d="M-24,9 L-24,22 Q-12,32 0,32 Q14,30 22,20 L28,8" stroke-width="4.5" fill="#fff" />
<path d="M-17,14 L15,14 L9,24 L-9,24 Z" stroke-width="0" fill="#000" />
<line x1="0" y1="-40" x2="0" y2="6" stroke-width="3" />
<line x1="-2" y1="30" x2="-2" y2="47" stroke-width="6" />
</g>
<g transform="translate(1671 2412) rotate(0) scale(1 1)">
<path d="M-30,-5 Q-27,-16 -14,-22" stroke-width="4" fill="none" />
<path d="M8,-20 Q26,-16 29,-2 L30,8" stroke-width="4" fill="none" />
<path d="M-16,-13 L-16,0 Q-12,9 0,9 Q12,9 14,0 L14,-12" stroke-width="5" fill="none" />
<path d="M-24,9 L-24,22 Q-12,32 0,32 Q14,30 22,20 L28,8" stroke-width="4.5" fill="#fff" />
<path d="M-17,14 L15,14 L9,24 L-9,24 Z" stroke-width="0" fill="#000" />
<line x1="0" y1="-40" x2="0" y2="6" stroke-width="3" />
<line x1="-2" y1="30" x2="-2" y2="47" stroke-width="6" />
</g>
<line x1="1672" y1="2348" x2="1672" y2="2383" stroke-width="2.5" />
<path d="M1990,1811 Q1955,1825 1936,1851 Q1908,1885 1893,1931 Q1872,1975 1865,2017 Q1860,2045 1862,2071 Q1864,2110 1872,2146 Q1880,2175 1893,2200 L1915,2224 L1932,2224 Q1945,2235 1962,2241 Q1980,2245 2001,2243 Q2020,2240 2037,2230 L2070,2202 L2101,2168 L2101,2135 L2055,2079 L2048,2077 L2057,2017 L2063,1995 L2055,1974 L2039,1952 L2055,1898 L2080,1834 L2076,1812 Q2066,1804 2055,1804 L2001,1804 Z" stroke-width="3.5" fill="#fff" />
<path d="M2000,1812 Q1960,1826 1942,1858 Q1915,1892 1902,1935 Q1882,1980 1876,2020 Q1872,2070 1876,2110 Q1882,2160 1900,2195 L1918,2215" stroke-width="3" fill="none" />
<path d="M1995,1818 Q2030,1812 2062,1818 Q2072,1830 2066,1845 L2045,1902" stroke-width="2.5" fill="none" />
<path d="M1935,2226 Q1960,2236 2000,2236 Q2030,2232 2052,2218" stroke-width="2.5" fill="none" />
<path d="M1940,2232 L1955,2210 Q1990,2222 2030,2212 L2040,2228" stroke-width="2.5" fill="none" />
<path d="M2094,2140 L2052,2088" stroke-width="2.5" fill="none" />
<path d="M2008,1825 L2064,1826 Q2068,1830 2066,1838 L2045,1896 L2036,1900 Q2030,1886 2016,1888 L2008,1895 Z" stroke-width="3.5" fill="none" />
<path d="M2013,1832 L2060,1833 L2040,1892" stroke-width="2.5" fill="none" />
<path d="M1917,1920 L1958,1862 Q1965,1858 1968,1862 L1988,1925 L1966,1970 L1958,1972 Z" stroke-width="3.5" fill="none" />
<path d="M1924,1920 L1958,1872 L1980,1925" stroke-width="2.5" fill="none" />
<path d="M1886,2004 Q1886,2000 1892,2000 L1944,2006 L1940,2070 L1888,2093 Q1884,2090 1884,2086 Z" stroke-width="3.5" fill="none" />
<path d="M1891,2010 L1935,2014 L1933,2065" stroke-width="2.5" fill="none" />
<path d="M1908,2140 Q1920,2130 1935,2133 L1958,2140 L1955,2200 L1930,2196 Z" stroke-width="3.5" fill="none" />
<ellipse cx="1940" cy="2160" rx="9" ry="16" stroke-width="3.5" fill="none" />
<ellipse cx="1938" cy="2160" rx="4" ry="10" stroke-width="2.5" fill="none" />
<path d="M1960,2130 Q1995,2125 2028,2132 L2024,2200 Q1995,2212 1960,2205 Z" stroke-width="3.5" fill="none" />
<path d="M1966,2140 Q1995,2150 2022,2140" stroke-width="2.5" fill="none" />
<path d="M2030,2135 L2055,2130 L2090,2165 L2088,2200 L2058,2200 Z" stroke-width="3.5" fill="none" />
<ellipse cx="2040" cy="2156" rx="9" ry="16" stroke-width="3.5" fill="none" />
<ellipse cx="2040" cy="2156" rx="4" ry="10" stroke-width="2.5" fill="none" />
<path d="M2063,2135 L2090,2172 L2082,2195" stroke-width="2.5" fill="none" />
<ellipse cx="2006" cy="2027" rx="36" ry="57" stroke-width="3.5" fill="none" />
<path d="M1949,1995 Q1950,2060 1970,2090 Q1990,2115 2010,2116 Q2032,2112 2046,2092 L2053,2078" stroke-width="3.5" fill="none" />
<path d="M1944,2000 Q1945,1960 1960,1945 Q1978,1930 2000,1930 Q2025,1932 2040,1950" stroke-width="3" fill="none" />
<path d="M1957,1950 Q1985,1926 2012,1938 L2030,1945" stroke-width="2.5" fill="none" />
<ellipse cx="1981" cy="1974" rx="5" ry="6" stroke-width="2" fill="#000" />
<ellipse cx="2048" cy="2004" rx="5" ry="6" stroke-width="2" fill="#000" />
<ellipse cx="1964" cy="2045" rx="5" ry="6" stroke-width="2" fill="#000" />
<ellipse cx="2022" cy="2081" rx="5" ry="6" stroke-width="2" fill="#000" />
<ellipse cx="2029" cy="1920" rx="10" ry="16" stroke-width="3.5" fill="#fff" />
<ellipse cx="2026" cy="1920" rx="5" ry="9" stroke-width="2.5" fill="none" />
<line x1="1946" y1="2010" x2="1947" y2="2080" stroke-width="5" />
<rect x="1456" y="1930" width="90" height="24" rx="3" stroke-width="3" fill="#fff"/>
<ellipse cx="1546" cy="1942" rx="4" ry="12" stroke-width="2.5" fill="none" />
<path d="M1458,1930 Q1448,1924 1446,1916 L1440,1918 L1440,1966 L1446,1968 Q1448,1960 1458,1954" stroke-width="3" fill="#fff" />
<line x1="1446" y1="1918" x2="1446" y2="1966" stroke-width="2.5" />
<line x1="1433" y1="1930" x2="1440" y2="1930" stroke-width="2.5" />
<line x1="1433" y1="1934" x2="1440" y2="1934" stroke-width="2.5" />
<line x1="1433" y1="1938" x2="1440" y2="1938" stroke-width="2.5" />
<line x1="1433" y1="1942" x2="1440" y2="1942" stroke-width="2.5" />
<line x1="1433" y1="1946" x2="1440" y2="1946" stroke-width="2.5" />
<line x1="1433" y1="1950" x2="1440" y2="1950" stroke-width="2.5" />
<line x1="1433" y1="1954" x2="1440" y2="1954" stroke-width="2.5" />
<rect x="1413" y="1996" width="90" height="24" rx="3" stroke-width="3" fill="#fff"/>
<ellipse cx="1503" cy="2008" rx="4" ry="12" stroke-width="2.5" fill="none" />
<path d="M1415,1996 Q1405,1990 1403,1982 L1397,1984 L1397,2032 L1403,2034 Q1405,2026 1415,2020" stroke-width="3" fill="#fff" />
<line x1="1403" y1="1984" x2="1403" y2="2032" stroke-width="2.5" />
<line x1="1390" y1="1996" x2="1397" y2="1996" stroke-width="2.5" />
<line x1="1390" y1="2000" x2="1397" y2="2000" stroke-width="2.5" />
<line x1="1390" y1="2004" x2="1397" y2="2004" stroke-width="2.5" />
<line x1="1390" y1="2008" x2="1397" y2="2008" stroke-width="2.5" />
<line x1="1390" y1="2012" x2="1397" y2="2012" stroke-width="2.5" />
<line x1="1390" y1="2016" x2="1397" y2="2016" stroke-width="2.5" />
<line x1="1390" y1="2020" x2="1397" y2="2020" stroke-width="2.5" />
<rect x="1456" y="2056" width="90" height="24" rx="3" stroke-width="3" fill="#fff"/>
<ellipse cx="1546" cy="2068" rx="4" ry="12" stroke-width="2.5" fill="none" />
<path d="M1458,2056 Q1448,2050 1446,2042 L1440,2044 L1440,2092 L1446,2094 Q1448,2086 1458,2080" stroke-width="3" fill="#fff" />
<line x1="1446" y1="2044" x2="1446" y2="2092" stroke-width="2.5" />
<line x1="1433" y1="2056" x2="1440" y2="2056" stroke-width="2.5" />
<line x1="1433" y1="2060" x2="1440" y2="2060" stroke-width="2.5" />
<line x1="1433" y1="2064" x2="1440" y2="2064" stroke-width="2.5" />
<line x1="1433" y1="2068" x2="1440" y2="2068" stroke-width="2.5" />
<line x1="1433" y1="2072" x2="1440" y2="2072" stroke-width="2.5" />
<line x1="1433" y1="2076" x2="1440" y2="2076" stroke-width="2.5" />
<line x1="1433" y1="2080" x2="1440" y2="2080" stroke-width="2.5" />
<rect x="1523" y="1994" width="40" height="24" rx="3" stroke-width="3" fill="#fff"/>
<ellipse cx="1563" cy="2006" rx="4" ry="12" stroke-width="2.5" fill="none" />
<path d="M1525,1994 Q1515,1988 1513,1980 L1507,1982 L1507,2030 L1513,2032 Q1515,2024 1525,2018" stroke-width="3" fill="#fff" />
<line x1="1513" y1="1982" x2="1513" y2="2030" stroke-width="2.5" />
<line x1="1500" y1="1994" x2="1507" y2="1994" stroke-width="2.5" />
<line x1="1500" y1="1998" x2="1507" y2="1998" stroke-width="2.5" />
<line x1="1500" y1="2002" x2="1507" y2="2002" stroke-width="2.5" />
<line x1="1500" y1="2006" x2="1507" y2="2006" stroke-width="2.5" />
<line x1="1500" y1="2010" x2="1507" y2="2010" stroke-width="2.5" />
<line x1="1500" y1="2014" x2="1507" y2="2014" stroke-width="2.5" />
<line x1="1500" y1="2018" x2="1507" y2="2018" stroke-width="2.5" />
<path d="M543,2098 Q560,2110 591,2109 Q640,2090 840,1985 Q858,1972 856,1945" stroke-width="3.5" fill="none" />
<path d="M863,1897 Q875,1903 886,1910 L953,1976 Q975,1998 1000,2013 Q1040,2025 1063,2030 Q1080,2038 1093,2053 Q1115,2075 1133,2100 L1209,2200" stroke-width="3.5" fill="none" />
<path d="M853,1910 Q870,1925 890,1946 L993,2100 Q1030,2140 1063,2163 L1126,2200" stroke-width="3" fill="none" />
<path d="M858,1903 Q880,1915 893,1935 L996,2090" stroke-width="2.5" fill="none" />
<path d="M880,1925 L945,1990 Q975,2010 1000,2022 L1060,2040 Q1085,2060 1100,2080 L1170,2180" stroke-width="2.5" fill="none" />
<path d="M507,2113 Q530,2122 558,2123 L800,2126 Q900,2132 976,2150 Q1060,2165 1150,2210 L1190,2230" stroke-width="3.5" fill="none" />
<path d="M510,2124 Q530,2132 560,2134 L800,2137 Q900,2142 976,2160 L1150,2220" stroke-width="2.5" fill="none" />
<path d="M505,2150 L725,2152 Q850,2158 976,2185 Q1060,2205 1150,2235 L1172,2247" stroke-width="3.5" fill="none" />
<path d="M497,2156 Q510,2168 530,2167 L540,2158" stroke-width="2.5" fill="none" />
<path d="M725,2152 Q760,2180 850,2175 L976,2185" stroke-width="2.5" fill="none" />
<path d="M707,2086 L840,2003 Q860,1998 876,2006 L926,2093 Q925,2108 913,2110 L720,2096 Q703,2095 707,2086 Z" stroke-width="3.5" fill="none" />
<path d="M720,2090 L840,2018 Q855,2014 865,2022 L912,2098" stroke-width="2.5" fill="none" />
<path d="M712,2082 L838,2008" stroke-width="2" fill="none" />
<line x1="966" y1="1830" x2="953" y2="1983" stroke-width="2.5" />
<line x1="950" y1="2016" x2="946" y2="2036" stroke-width="2.5" />
<path d="M945,2073 L941,2110 Q945,2122 960,2120 L990,2113" stroke-width="2.5" fill="none" />
<ellipse cx="1139" cy="2160" rx="8" ry="10" stroke-width="3" fill="none" />
<ellipse cx="1139" cy="2160" rx="4" ry="5" stroke-width="2" fill="none" />
<ellipse cx="1045" cy="2085" rx="32" ry="42" stroke-width="3" fill="#fff" />
<ellipse cx="1035" cy="2090" rx="29" ry="39" stroke-width="3.5" fill="#fff" />
<ellipse cx="1034" cy="2091" rx="24" ry="33" stroke-width="3" fill="none" />
<ellipse cx="1033" cy="2093" rx="19" ry="26" stroke-width="3" fill="none" />
<ellipse cx="1030" cy="2096" rx="12" ry="14" stroke-width="3" fill="none" />
<ellipse cx="1029" cy="2097" rx="6" ry="7" stroke-width="2.5" fill="none" />
<path d="M760,1853 Q780,1832 800,1832 Q840,1835 863,1867 L860,1940 Q852,1960 840,1966" stroke-width="3" fill="#fff" />
<ellipse cx="781" cy="1913" rx="46" ry="50" stroke-width="3" fill="#fff" />
<ellipse cx="777" cy="1915" rx="40" ry="44" stroke-width="2.5" fill="none" />
<ellipse cx="776" cy="1915" rx="34" ry="38" stroke-width="2.5" fill="none" />
<ellipse cx="775" cy="1915" rx="28" ry="32" stroke-width="2.5" fill="none" />
<ellipse cx="774" cy="1915" rx="22" ry="26" stroke-width="2.5" fill="none" />
<ellipse cx="767" cy="1917" rx="13" ry="17" stroke-width="3" fill="none" />
<ellipse cx="767" cy="1917" rx="7" ry="10" stroke-width="2.5" fill="none" />
<path d="M827,1876 Q840,1866 862,1872 L866,1893 Q850,1900 830,1897 Z" stroke-width="3" fill="#fff" />
<path d="M398,2073 Q420,2040 456,2022 Q494,2020 533,2062 L540,2083" stroke-width="3" fill="#fff" />
<ellipse cx="451" cy="2103" rx="55" ry="64" stroke-width="3" fill="#fff" />
<ellipse cx="449" cy="2104" rx="49" ry="58" stroke-width="2.5" fill="none" />
<ellipse cx="448" cy="2104" rx="43" ry="52" stroke-width="2.5" fill="none" />
<ellipse cx="447" cy="2104" rx="37" ry="46" stroke-width="2.5" fill="none" />
<ellipse cx="446" cy="2104" rx="31" ry="40" stroke-width="2.5" fill="none" />
<ellipse cx="437" cy="2113" rx="17" ry="19" stroke-width="3.5" fill="none" />
<ellipse cx="437" cy="2113" rx="11" ry="12" stroke-width="2.5" fill="none" />
<path d="M507,2072 Q520,2065 540,2070 L543,2112 Q525,2115 508,2110 Z" stroke-width="3" fill="#fff" />
<line x1="508" y1="2085" x2="542" y2="2090" stroke-width="2.5" />
<path d="M1187,2212 L1180,2265 Q1172,2270 1172,2280 Q1190,2295 1218,2296 Q1250,2295 1266,2282 Q1266,2270 1258,2265 L1250,2212" stroke-width="3.5" fill="#fff" />
<ellipse cx="1218" cy="2212" rx="31" ry="13" stroke-width="3.5" fill="#fff" />
<path d="M1176,2268 Q1218,2282 1262,2268" stroke-width="3.5" fill="none" />
<rect x="1203" y="2294" width="30" height="26" rx="3" stroke-width="3" fill="#fff"/>
<rect x="1208" y="2320" width="22" height="28" rx="3" stroke-width="3" fill="#fff"/>
<line x1="1222.6" y1="2349" x2="1222.6" y2="2410" stroke-width="2.5" />
<line x1="1222.6" y1="2426" x2="1222.6" y2="2447" stroke-width="3" />
<path d="M1222.6,2466 L1222.6,2498 Q1224,2525 1247,2540 Q1262,2553 1280,2554 L1294,2554 Q1310,2550 1321,2538 L1425,2436" stroke-width="2.5" fill="none" />
<line x1="1439.6" y1="2420.4" x2="1461" y2="2399" stroke-width="2.5" />
<line x1="1469" y1="2388.5" x2="1579.5" y2="2272.6" stroke-width="2.5" />
<g transform="translate(872 1845) rotate(-30.3) scale(1 1)">
<path d="M0,-9 L108.9,-9 L108.9,9 L0,9 Z" stroke-width="2.5" fill="#fff" />
<path d="M0,-9 Q-5,0 0,9" stroke-width="2.5" fill="none" />
<path d="M16.3,-9 Q20.3,0 16.3,9" stroke-width="2.5" fill="none" />
<path d="M59.9,-9 Q63.9,0 59.9,9" stroke-width="2.5" fill="none" />
<path d="M110.9,-19.6 L125.9,-19.6 L131.9,-9.8 L131.9,9.8 L125.9,19.6 L110.9,19.6 Z" stroke-width="3" fill="#fff" />
<line x1="125.9" y1="-19.6" x2="125.9" y2="19.6" stroke-width="2.5" />
<line x1="112.9" y1="-9.8" x2="131.9" y2="-9.8" stroke-width="2" />
<line x1="112.9" y1="9.8" x2="131.9" y2="9.8" stroke-width="2" />
<ellipse cx="108.9" cy="0" rx="6" ry="23" stroke-width="4" fill="#fff" />
<ellipse cx="108.9" cy="0" rx="2.5" ry="18" stroke-width="2" fill="none" />
</g>
<g transform="translate(393 2152) rotate(144.8) scale(1 1)">
<path d="M0,-8 L116.2,-8 L116.2,8 L0,8 Z" stroke-width="2.5" fill="#fff" />
<path d="M0,-8 Q-5,0 0,8" stroke-width="2.5" fill="none" />
<path d="M17.4,-8 Q21.4,0 17.4,8" stroke-width="2.5" fill="none" />
<path d="M63.9,-8 Q67.9,0 63.9,8" stroke-width="2.5" fill="none" />
<path d="M118.2,-21.2 L136.2,-21.2 L142.2,-10.6 L142.2,10.6 L136.2,21.2 L118.2,21.2 Z" stroke-width="3" fill="#fff" />
<line x1="136.2" y1="-21.2" x2="136.2" y2="21.2" stroke-width="2.5" />
<line x1="120.2" y1="-10.6" x2="142.2" y2="-10.6" stroke-width="2" />
<line x1="120.2" y1="10.6" x2="142.2" y2="10.6" stroke-width="2" />
<ellipse cx="116.2" cy="0" rx="6" ry="25" stroke-width="4" fill="#fff" />
<ellipse cx="116.2" cy="0" rx="2.5" ry="20" stroke-width="2" fill="none" />
</g>
<g transform="translate(705 1958) rotate(-20) scale(0.8 0.8)">
<line x1="-48" y1="14" x2="4" y2="1" stroke-width="1.8" />
<path d="M0,-24 Q18,-24 23,-8 L24,8 Q20,24 2,24" stroke-width="3" fill="none" />
<path d="M0,-24 Q-14,-22 -22,-8" stroke-width="3" fill="none" />
<path d="M-19,13 Q-11,23 2,24" stroke-width="3" fill="none" />
<path d="M-3,-17 L9,-17 L16,-5 L16,8 L9,17 L-3,17" stroke-width="2.5" fill="none" />
<line x1="-5" y1="-12" x2="-5" y2="12" stroke-width="2.5" />
<line x1="1" y1="-13" x2="1" y2="13" stroke-width="2" />
<line x1="7" y1="-10" x2="7" y2="10" stroke-width="2" />
</g>
<g transform="translate(588 2027) rotate(0) scale(1 1)">
<line x1="-41" y1="24" x2="45" y2="-35" stroke-width="3" />
<path d="M-8,-24 Q-28,-20 -28,0 Q-26,16 -14,22" stroke-width="4" fill="none" />
<path d="M-12,-25 L14,-26 Q26,-10 24,6 L18,24 L-4,26" stroke-width="3" fill="#fff" />
<ellipse cx="12" cy="0" rx="10" ry="22" stroke-width="5" fill="none" />
<path d="M-14,-8 Q-16,8 -4,12 Q6,12 6,0" stroke-width="4.5" fill="none" />
</g>
<line x1="988.6" y1="1580" x2="974.2" y2="1746" stroke-width="2.5" />
<line x1="995.8" y1="1577" x2="1074.7" y2="1756" stroke-width="2.5" />
<line x1="1085.4" y1="1785" x2="1096.2" y2="1813.8" stroke-width="2.5" />
<path d="M1105,1835 L1186,2013 L1188,2030 L1179,2040 L1103,2070" stroke-width="2.5" fill="none" stroke-dasharray="70 22"/>
<line x1="410" y1="420" x2="540" y2="417" stroke-width="5" />
<line x1="309" y1="561" x2="511" y2="561" stroke-width="5" />
<line x1="382" y1="632" x2="513" y2="575" stroke-width="5" />
<line x1="414" y1="740" x2="532" y2="736" stroke-width="5" />
<line x1="354" y1="876" x2="526" y2="876" stroke-width="5" />
<line x1="360" y1="1001" x2="527" y2="1001" stroke-width="5" />
<line x1="366" y1="1130" x2="526" y2="1130" stroke-width="5" />
<line x1="1021" y1="678" x2="1222" y2="676" stroke-width="5" />
<line x1="415" y1="1402" x2="475" y2="1404" stroke-width="5" />
<line x1="420" y1="1777" x2="519" y2="1775" stroke-width="5" />
<line x1="725" y1="1447" x2="800" y2="1450" stroke-width="5" />
<line x1="812" y1="1292" x2="839" y2="1302" stroke-width="5" />
<line x1="495" y1="1537" x2="554" y2="1592" stroke-width="5" />
<line x1="897" y1="1625" x2="865" y2="1675" stroke-width="5" />
<line x1="1094" y1="1150" x2="1090" y2="1252" stroke-width="5" />
<line x1="1206" y1="1331" x2="1299" y2="1331" stroke-width="5" />
<line x1="1060" y1="1461" x2="1284" y2="1461" stroke-width="5" />
<line x1="1130" y1="1537" x2="1200" y2="1610" stroke-width="5" />
<line x1="682" y1="1764" x2="767" y2="1877" stroke-width="5" />
<line x1="586" y1="1900" x2="590" y2="2000" stroke-width="5" />
<line x1="616" y1="1885" x2="695" y2="1940" stroke-width="5" />
<line x1="262" y1="2041" x2="410" y2="2089" stroke-width="5" />
<line x1="420" y1="2299" x2="330" y2="2212" stroke-width="5" />
<line x1="965" y1="1802" x2="1025" y2="1860" stroke-width="5" />
<line x1="911" y1="2175" x2="911" y2="2392" stroke-width="5" />
<line x1="1077" y1="2030" x2="1030" y2="2095" stroke-width="5" />
<line x1="1340" y1="1900" x2="1432" y2="1930" stroke-width="5" />
<line x1="1327" y1="1919" x2="1380" y2="1989" stroke-width="5" />
<line x1="1709" y1="2411" x2="1810" y2="2408" stroke-width="5" />
<line x1="1990" y1="1668" x2="1990" y2="1810" stroke-width="5" />
<line x1="1506" y1="1725" x2="1716" y2="1725" stroke-width="5" />
<line x1="1557" y1="1534" x2="1667" y2="1534" stroke-width="5" />
<line x1="1405" y1="1235" x2="1457" y2="1300" stroke-width="5" />
<line x1="1645" y1="1197" x2="1610" y2="1280" stroke-width="5" />
<line x1="1340" y1="1066" x2="1270" y2="1107" stroke-width="5" />
<line x1="1664" y1="617" x2="1591" y2="735" stroke-width="5" />
<line x1="1904" y1="620" x2="1801" y2="786" stroke-width="5" />
<line x1="1970" y1="763" x2="1901" y2="877" stroke-width="5" />
</g>
<line x1="1413" y1="808" x2="1416" y2="950" stroke="#000" stroke-width="5"/>
<g class="lbl">
<text transform="translate(575 431) scale(0.92 1)" fill="#000">2</text>
<text transform="translate(546 573) scale(0.92 1)" fill="#000">3</text>
<text transform="translate(568 751) scale(0.92 1)" fill="#000">4</text>
<text transform="translate(1256 688) scale(0.92 1)" fill="#000">1</text>
<text transform="translate(561 890) scale(0.92 1)" fill="#000">5</text>
<text transform="translate(562 1015) scale(0.92 1)" fill="#000">6</text>
<text transform="translate(560 1143) scale(0.92 1)" fill="#000">7</text>
<text transform="translate(508 1418) scale(0.92 1)" fill="#000">8</text>
<text transform="translate(553 1787) scale(0.92 1)" fill="#000">9</text>
<text transform="translate(836 1466) scale(0.92 1)" fill="#000">15</text>
<text transform="translate(777 1291) scale(0.92 1)" fill="#000">14</text>
<text transform="translate(467 1523) scale(0.92 1)" fill="#000">16</text>
<text transform="translate(844 1718) scale(0.92 1)" fill="#000">13</text>
<text transform="translate(1093 1125) scale(0.92 1)" fill="#000">11</text>
<text transform="translate(1334 1346) scale(0.92 1)" fill="#000">16</text>
<text transform="translate(1319 1473) scale(0.92 1)" fill="#000">10</text>
<text transform="translate(1224 1650) scale(0.92 1)" fill="#000">12</text>
<text transform="translate(660 1748) scale(0.92 1)" fill="#000">21</text>
<text transform="translate(586 1876) scale(0.92 1)" fill="#000">23</text>
<text transform="translate(227 2043) scale(0.92 1)" fill="#000">22</text>
<text transform="translate(444 2338) scale(0.92 1)" fill="#000">24</text>
<text transform="translate(1052 1903) scale(0.92 1)" fill="#000">24</text>
<text transform="translate(910 2441) scale(0.92 1)" fill="#000">20</text>
<text transform="translate(1097 2011) scale(0.92 1)" fill="#000">26</text>
<text transform="translate(1304 1903) scale(0.92 1)" fill="#000">19</text>
<text transform="translate(1845 2420) scale(0.92 1)" fill="#000">25</text>
<text transform="translate(1989 1631) scale(0.92 1)" fill="#000">18</text>
<text transform="translate(1469 1738) scale(0.92 1)" fill="#000">17</text>
<text transform="translate(1518 1546) scale(0.92 1)" fill="#000">31</text>
<text transform="translate(1478 1343) scale(0.92 1)" fill="#000">28</text>
<text transform="translate(1658 1176) scale(0.92 1)" fill="#000">29</text>
<text transform="translate(1372 1061) scale(0.92 1)" fill="#000">30</text>
<text transform="translate(1684 598) scale(0.92 1)" fill="#000">29</text>
<text transform="translate(1922 603) scale(0.92 1)" fill="#000">28</text>
<text transform="translate(1988 746) scale(0.92 1)" fill="#000">30</text>
<text transform="translate(1411.5 784) scale(0.92 1)" fill="#000">27</text>
</g>
<rect x="1372" y="732" width="91" height="91" fill="rgba(255,0,0,0.5)"/>
</svg>
<div id="footer"></div>
<div class="ft" style="left:195.3px;transform:scaleX(0.8999)">CHRYSLER</div>
<div class="ft" style="left:651.4px;transform:scaleX(0.8845)">DODGE</div>
<div class="ft" style="left:960.2px;transform:scaleX(0.9336)">JEEP</div>
<div class="ft" style="left:1187.0px;transform:scaleX(1.0281)">-</div>
<div class="ft" style="left:1235.8px;transform:scaleX(0.9996)">4895669AA</div>
<div class="ft" style="left:1811.9px;transform:scaleX(0.9905)">N</div>
<div class="ft" style="left:1895.6px;transform:scaleX(1.0187)">-</div>
<div class="ft" style="left:1942.4px;transform:scaleX(1.0471)">27</div>
</body></html>
